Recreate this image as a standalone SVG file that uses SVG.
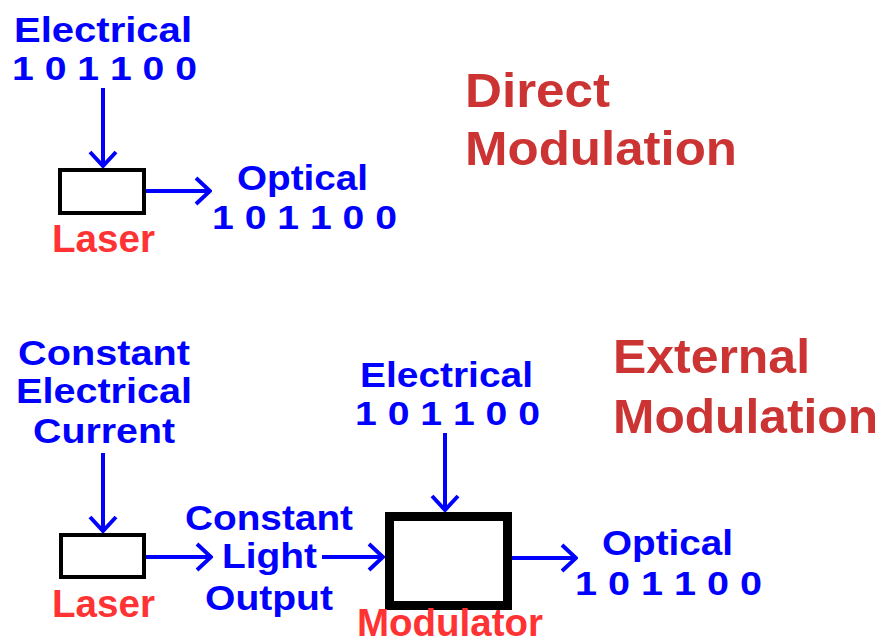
<svg xmlns="http://www.w3.org/2000/svg" width="885" height="644" viewBox="0 0 885 644">
<style>
text{font-family:"Liberation Sans",Arial,sans-serif;font-weight:bold}
.b{fill:#0000ff;font-size:35px}
.d{fill:#0000ff;font-size:33px}
.r{fill:#ff3333;font-size:38px}
.t{fill:#cc3333;font-size:48px}
.w{stroke:#0000ff;stroke-width:4;fill:none;marker-end:url(#ah)}
.box{fill:#ffffff;stroke:#000000}
</style>
<defs>
<marker id="ah" markerUnits="userSpaceOnUse" viewBox="0 0 18 30" markerWidth="18" markerHeight="30" refX="16" refY="15" orient="auto">
<path d="M2,2 L16,15 L2,28" fill="none" stroke="#0000ff" stroke-width="4"/>
</marker>
</defs>
<rect width="885" height="644" fill="#ffffff"/>
<g id="connectors">
<line class="w" x1="103" y1="88" x2="103" y2="166"/>
<line class="w" x1="146" y1="191" x2="210" y2="191"/>
<line class="w" x1="103" y1="453" x2="103" y2="531"/>
<line class="w" x1="146" y1="557" x2="211" y2="557"/>
<line class="w" x1="322" y1="557" x2="383" y2="557"/>
<line class="w" x1="445" y1="433" x2="445" y2="510"/>
<line class="w" x1="512" y1="558" x2="576" y2="558"/>
</g>
<g id="direct-electrical">
<text class="b" x="14" y="42" textLength="178" lengthAdjust="spacingAndGlyphs">Electrical</text>
<text class="d" x="12" y="80" textLength="185" lengthAdjust="spacingAndGlyphs">1 0 1 1 0 0</text>
</g>
<g id="direct-laser">
<rect class="box" x="60" y="170" width="84" height="43" stroke-width="4"/>
<text class="r" x="52" y="252" textLength="103" lengthAdjust="spacingAndGlyphs">Laser</text>
</g>
<g id="direct-optical">
<text class="b" x="237" y="190" textLength="131" lengthAdjust="spacingAndGlyphs">Optical</text>
<text class="d" x="212" y="229" textLength="185" lengthAdjust="spacingAndGlyphs">1 0 1 1 0 0</text>
</g>
<g id="title-direct">
<text class="t" x="465" y="107" textLength="145" lengthAdjust="spacingAndGlyphs">Direct</text>
<text class="t" x="465" y="165" textLength="272" lengthAdjust="spacingAndGlyphs">Modulation</text>
</g>
<g id="constant-current">
<text class="b" x="18" y="365" textLength="172" lengthAdjust="spacingAndGlyphs">Constant</text>
<text class="b" x="16" y="403" textLength="176" lengthAdjust="spacingAndGlyphs">Electrical</text>
<text class="b" x="33" y="443" textLength="142" lengthAdjust="spacingAndGlyphs">Current</text>
</g>
<g id="external-laser">
<rect class="box" x="61" y="535" width="83" height="42" stroke-width="4"/>
<text class="r" x="52" y="617" textLength="103" lengthAdjust="spacingAndGlyphs">Laser</text>
</g>
<g id="constant-light">
<text class="b" x="185" y="530" textLength="168" lengthAdjust="spacingAndGlyphs">Constant</text>
<text class="b" x="222" y="568" textLength="95" lengthAdjust="spacingAndGlyphs">Light</text>
<text class="b" x="205" y="610" textLength="128" lengthAdjust="spacingAndGlyphs">Output</text>
</g>
<g id="external-electrical">
<text class="b" x="360" y="387" textLength="173" lengthAdjust="spacingAndGlyphs">Electrical</text>
<text class="d" x="355" y="425" textLength="185" lengthAdjust="spacingAndGlyphs">1 0 1 1 0 0</text>
</g>
<g id="modulator">
<rect class="box" x="389.5" y="516.5" width="118" height="89" stroke-width="9"/>
<text class="r" x="357" y="636" font-size="33" textLength="186" lengthAdjust="spacingAndGlyphs">Modulator</text>
</g>
<g id="external-optical">
<text class="b" x="602" y="555" textLength="131" lengthAdjust="spacingAndGlyphs">Optical</text>
<text class="d" x="575" y="595" textLength="187" lengthAdjust="spacingAndGlyphs">1 0 1 1 0 0</text>
</g>
<g id="title-external">
<text class="t" x="613" y="373" font-size="50" textLength="197" lengthAdjust="spacingAndGlyphs">External</text>
<text class="t" x="613" y="433" font-size="50" textLength="265" lengthAdjust="spacingAndGlyphs">Modulation</text>
</g>
</svg>
